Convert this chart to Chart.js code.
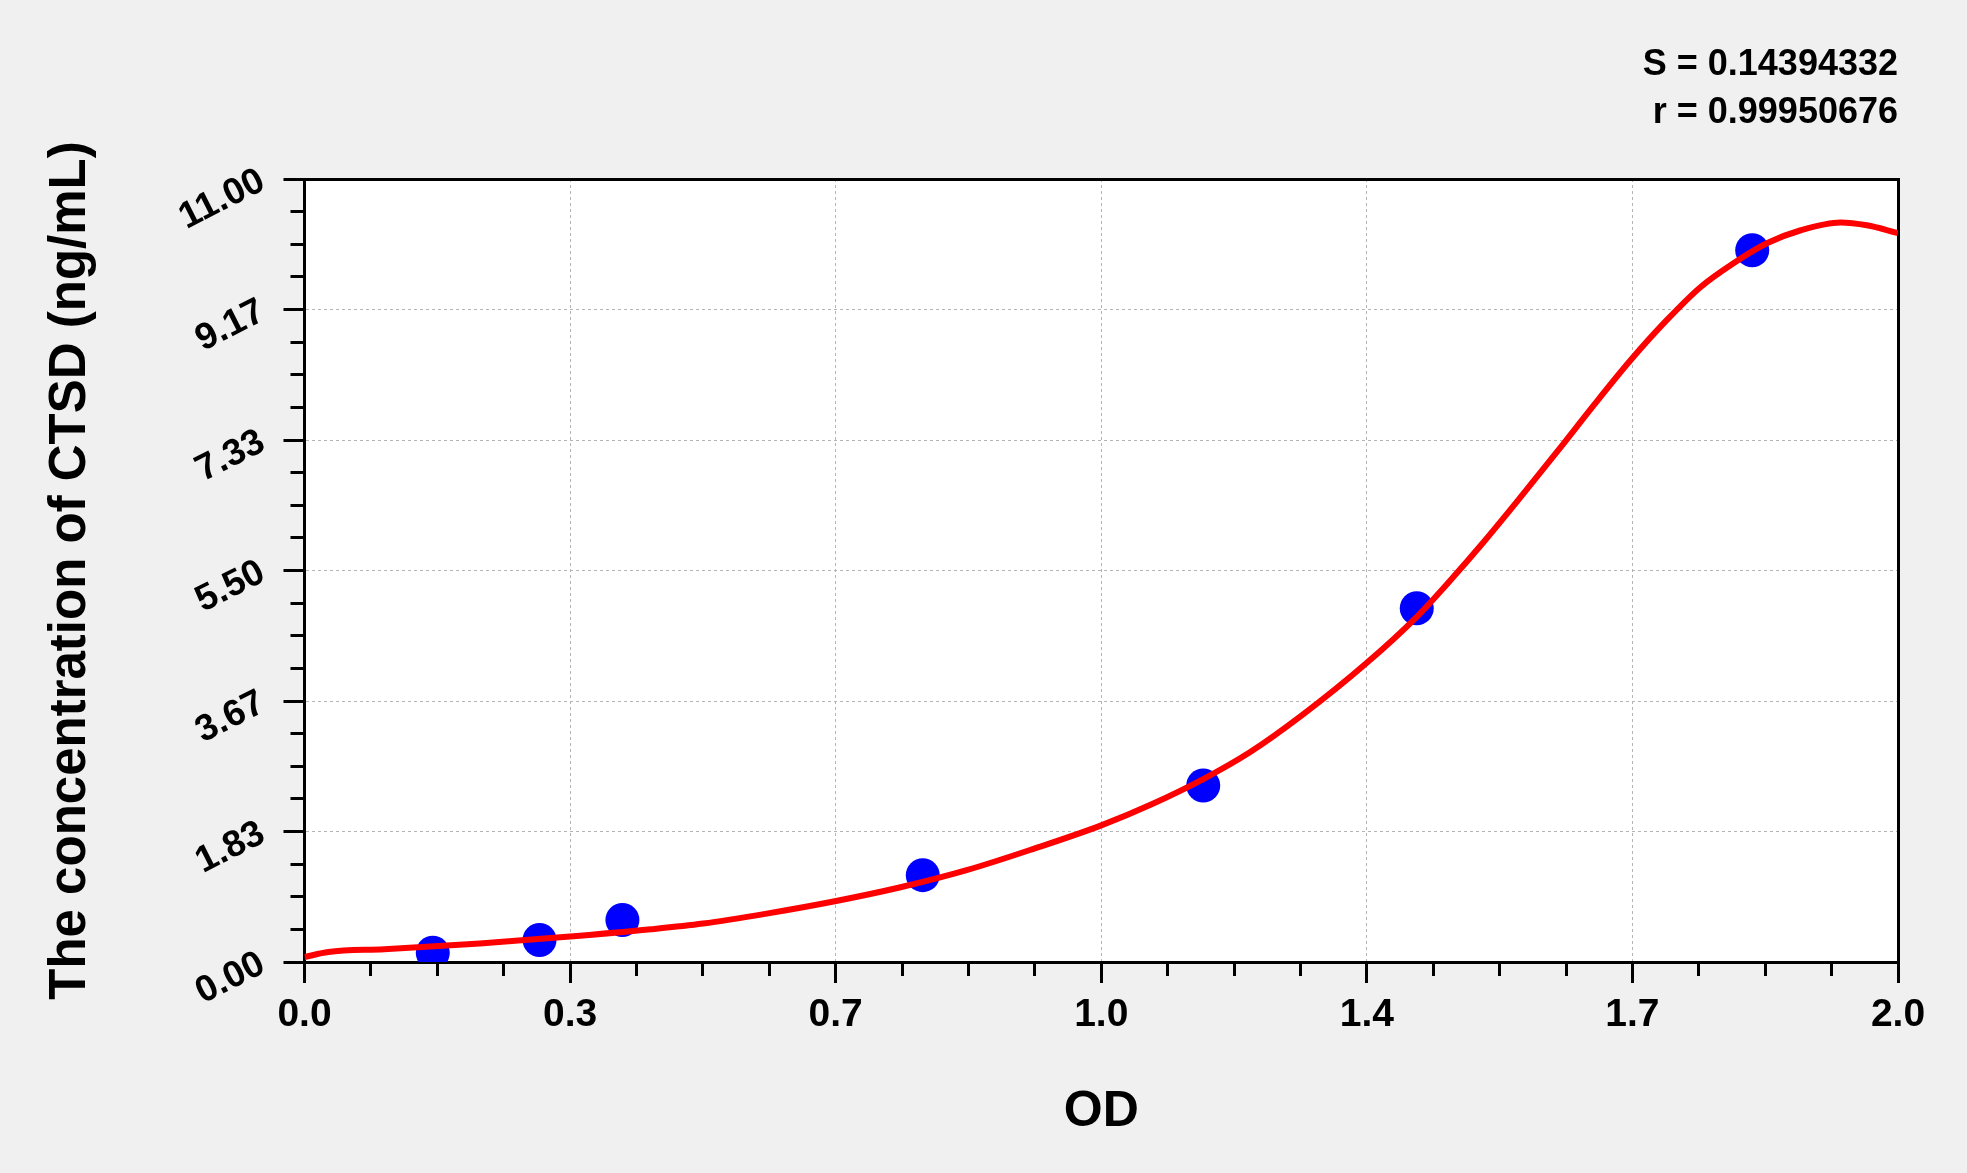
<!DOCTYPE html>
<html>
<head>
<meta charset="utf-8">
<script src="https://cdn.jsdelivr.net/npm/chart.js@4.4.1/dist/chart.umd.min.js"></script>
<style>
  html, body { margin: 0; padding: 0; background: #f0f0f0; }
  #curve { display: block; }
</style>
</head>
<body>
<canvas id="curve" width="1967" height="1173"></canvas>
<script>
// standards
var odValues = [0.161, 0.295, 0.399, 0.776, 1.128, 1.396, 1.817];
var concValues = [0.13, 0.31, 0.59, 1.22, 2.48, 4.97, 10.0];

// fitted curve
var fitOD = [0.0, 0.03, 0.1, 0.22, 0.325, 0.435, 0.5, 0.58, 0.664, 0.748, 0.831, 0.915, 1.0, 1.064, 1.128,
  1.187, 1.25, 1.333, 1.396, 1.438, 1.48, 1.522, 1.58, 1.618, 1.664, 1.71, 1.752, 1.794, 1.836, 1.878,
  1.928, 1.961, 2.0];
var fitConc = [0.07, 0.14, 0.18, 0.26, 0.35, 0.46, 0.54, 0.68, 0.85, 1.05, 1.29, 1.59, 1.92, 2.22, 2.57,
  2.95, 3.45, 4.2, 4.85, 5.36, 5.9, 6.47, 7.28, 7.82, 8.45, 9.02, 9.48, 9.82, 10.1, 10.28,
  10.39, 10.35, 10.24];

var xTickLabels = ["0.0", "0.3", "0.7", "1.0", "1.4", "1.7", "2.0"];
var yTickLabels = ["0.00", "1.83", "3.67", "5.50", "7.33", "9.17", "11.00"];
var statLines = ["S = 0.14394332", "r = 0.99950676"];

var FONT = "'Liberation Sans', Arial, sans-serif";

function toPoints(xs, ys) {
  var pts = [];
  for (var i = 0; i < xs.length; i++) pts.push({x: xs[i], y: ys[i]});
  return pts;
}

// grey page, white plot box
var backdrop = {
  id: "backdrop",
  beforeDraw: function (chart) {
    var c = chart.ctx, a = chart.chartArea;
    c.save();
    c.fillStyle = "#f0f0f0";
    c.fillRect(0, 0, chart.width, chart.height);
    c.fillStyle = "#ffffff";
    c.fillRect(a.left, a.top, a.right - a.left, a.bottom - a.top);
    c.restore();
  }
};

function minorAxis(pos, max) {
  return {
    type: "linear", position: pos, min: 0, max: max, weight: 0,
    ticks: {display: false, count: 25},
    grid: {drawOnChartArea: false, tickLength: 14, tickWidth: 3, tickColor: "#000"},
    border: {display: false},
    afterFit: function (s) { if (pos === "bottom") s.height = 0; else s.width = 0; }
  };
}

function frameAxis(pos, axis) {
  return {
    type: "linear", axis: axis, position: pos, min: 0, max: 1, weight: 0,
    ticks: {display: false},
    grid: {display: false},
    border: {display: true, color: "#000", width: 3},
    afterFit: function (s) { if (pos === "top") s.height = 0; else s.width = 0; }
  };
}

var ctx = document.getElementById("curve").getContext("2d");
var chart = new Chart(ctx, {
  type: "scatter",
  data: {
    datasets: [
      {
        type: "line",
        data: toPoints(fitOD, fitConc),
        borderColor: "#ff0000",
        borderWidth: 6,
        pointRadius: 0,
        fill: false,
        cubicInterpolationMode: "monotone"
      },
      {
        type: "scatter",
        data: toPoints(odValues, concValues),
        backgroundColor: "#0000ff",
        borderWidth: 0,
        pointRadius: 17,
        pointHoverRadius: 17
      }
    ]
  },
  options: {
    responsive: false,
    animation: false,
    devicePixelRatio: 1,
    layout: {padding: {left: 0, top: 0, right: 69, bottom: 0}},
    plugins: {
      legend: {display: false},
      tooltip: {enabled: false},
      title: {
        display: true,
        text: statLines,
        align: "end",
        color: "#000",
        font: {family: FONT, size: 36, weight: "bold", lineHeight: 48.5 / 36},
        padding: {top: 40.75, bottom: 41.25}
      }
    },
    scales: {
      x: {
        type: "linear", position: "bottom", min: 0, max: 2, weight: 1,
        ticks: {
          count: 7, autoSkip: false, padding: 9, color: "#000",
          font: {family: FONT, size: 39, weight: "bold"},
          callback: function (v, i) { return xTickLabels[i]; }
        },
        grid: {color: "#b4b4b4", lineWidth: 1, tickLength: 21, tickWidth: 3, tickColor: "#000", tickBorderDash: []},
        border: {color: "#000", width: 3, dash: [3, 3]},
        title: {
          display: true, text: "OD", color: "#000",
          font: {family: FONT, size: 50, weight: "bold"},
          padding: {top: 0, bottom: 31}
        },
        afterFit: function (s) { s.height = 211; }
      },
      x2: minorAxis("bottom", 2),
      xTop: frameAxis("top", "x"),
      y: {
        type: "linear", position: "left", min: 0, max: 11, weight: 1,
        ticks: {
          count: 7, autoSkip: false, padding: 21, color: "#000",
          minRotation: 27, maxRotation: 27,
          font: {family: FONT, size: 37, weight: "bold"},
          callback: function (v, i) { return yTickLabels[i]; }
        },
        grid: {color: "#b4b4b4", lineWidth: 1, tickLength: 21, tickWidth: 3, tickColor: "#000", tickBorderDash: []},
        border: {color: "#000", width: 3, dash: [3, 3]},
        title: {
          display: true, text: "The concentration of CTSD (ng/mL)", color: "#000",
          font: {family: FONT, size: 51, weight: "bold"},
          padding: {top: 40, bottom: 0}
        },
        afterFit: function (s) { s.width = 304.5; }
      },
      y2: minorAxis("left", 11),
      yRight: frameAxis("right", "y")
    }
  },
  plugins: [backdrop]
});
</script>
</body>
</html>
